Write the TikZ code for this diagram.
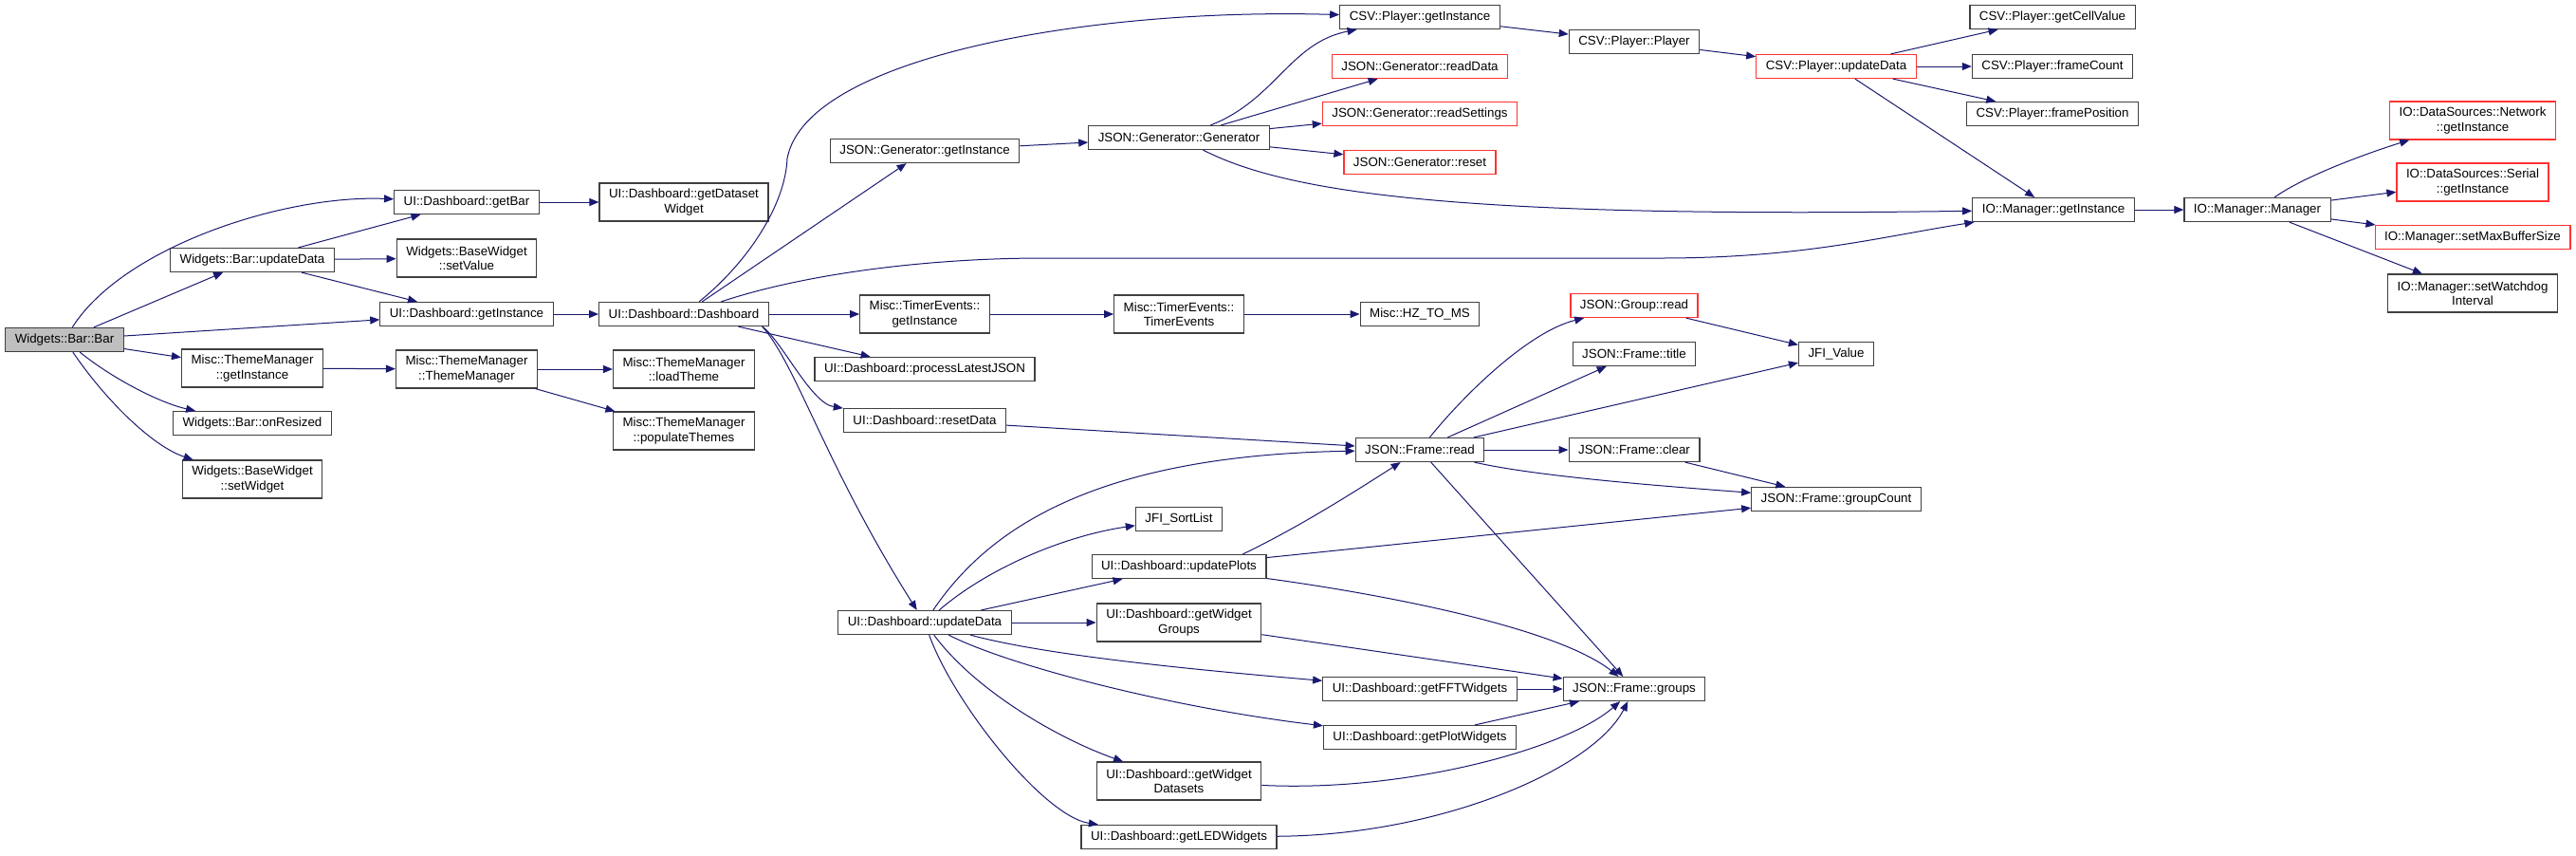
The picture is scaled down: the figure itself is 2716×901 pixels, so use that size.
\documentclass[tikz,border=0pt]{standalone}
\usepackage{fontspec}
\setmainfont{Liberation Sans}
\usepackage{xcolor}
\usepackage{tikz}
\usetikzlibrary{arrows.meta}

\definecolor{edgeblue}{RGB}{25,25,112}
\definecolor{boxline}{RGB}{64,64,64}
\definecolor{cutred}{RGB}{255,51,51}
\definecolor{rootgray}{RGB}{191,191,191}

\begin{document}
\begin{tikzpicture}[
  x=0.75pt, y=-0.75pt,
  block/.style={rectangle, draw=boxline, line width=0.9pt, minimum height=18.75pt, inner xsep=7.5pt, inner ysep=1pt, align=center, font=\fontsize{10}{11.5}\selectfont},
  two/.style={minimum height=30pt},
  cut/.style={draw=cutred},
  arrow/.style={-{Triangle[length=7.5pt,width=6pt]}, draw=edgeblue, line width=0.75pt}
]
\useasboundingbox (0,0) rectangle (2716,901);

\node[block, fill=rootgray] (bar) at (68,358) {Widgets::Bar::Bar};
\node[block] (wupd) at (266,274) {Widgets::Bar::updateData};
\node[block, two] (tminst) at (266,388) {Misc::ThemeManager\\::getInstance};
\node[block] (resize) at (266,446) {Widgets::Bar::onResized};
\node[block, two] (setwdg) at (266,505) {Widgets::BaseWidget\\::setWidget};
\node[block] (getbar) at (492,213) {UI::Dashboard::getBar};
\node[block, two] (setval) at (492,272) {Widgets::BaseWidget\\::setValue};
\node[block] (uiinst) at (492,331) {UI::Dashboard::getInstance};
\node[block, two] (tm) at (492,389) {Misc::ThemeManager\\::ThemeManager};
\node[block, two] (dsw) at (721,213) {UI::Dashboard::getDataset\\Widget};
\node[block] (dash) at (721,331) {UI::Dashboard::Dashboard};
\node[block, two] (loadth) at (721,389) {Misc::ThemeManager\\::loadTheme};
\node[block, two] (popth) at (721,454) {Misc::ThemeManager\\::populateThemes};
\node[block] (geninst) at (975,159) {JSON::Generator::getInstance};
\node[block, two] (teinst) at (975,331) {Misc::TimerEvents::\\getInstance};
\node[block] (plj) at (975,389) {UI::Dashboard::processLatestJSON};
\node[block] (resetd) at (975,443) {UI::Dashboard::resetData};
\node[block] (upd) at (975,656) {UI::Dashboard::updateData};
\node[block] (gen) at (1243,145) {JSON::Generator::Generator};
\node[block, two] (te) at (1243,331) {Misc::TimerEvents::\\TimerEvents};
\node[block] (sortl) at (1243,547) {JFI\_SortList};
\node[block] (uplots) at (1243,597) {UI::Dashboard::updatePlots};
\node[block, two] (wgroups) at (1243,656) {UI::Dashboard::getWidget\\Groups};
\node[block, two] (wds) at (1243,823) {UI::Dashboard::getWidget\\Datasets};
\node[block] (led) at (1243,882) {UI::Dashboard::getLEDWidgets};
\node[block] (csvinst) at (1497,18) {CSV::Player::getInstance};
\node[block, cut] (readdata) at (1497,70) {JSON::Generator::readData};
\node[block, cut] (readset) at (1497,120) {JSON::Generator::readSettings};
\node[block, cut] (genreset) at (1497,171) {JSON::Generator::reset};
\node[block] (hz) at (1497,331) {Misc::HZ\_TO\_MS};
\node[block] (fread) at (1497,474) {JSON::Frame::read};
\node[block] (fft) at (1497,726) {UI::Dashboard::getFFTWidgets};
\node[block] (plotw) at (1497,777) {UI::Dashboard::getPlotWidgets};
\node[block] (player) at (1723,44) {CSV::Player::Player};
\node[block, cut] (grpread) at (1723,322) {JSON::Group::read};
\node[block] (ftitle) at (1723,373) {JSON::Frame::title};
\node[block] (fclear) at (1723,474) {JSON::Frame::clear};
\node[block] (fgroups) at (1723,726) {JSON::Frame::groups};
\node[block, cut] (csvupd) at (1936,70) {CSV::Player::updateData};
\node[block] (jfival) at (1936,373) {JFI\_Value};
\node[block] (gcount) at (1936,526) {JSON::Frame::groupCount};
\node[block] (cellval) at (2164,18) {CSV::Player::getCellValue};
\node[block] (fcount) at (2164,70) {CSV::Player::frameCount};
\node[block] (fpos) at (2164,120) {CSV::Player::framePosition};
\node[block] (ioinst) at (2165,221) {IO::Manager::getInstance};
\node[block] (iomgr) at (2380,221) {IO::Manager::Manager};
\node[block, two, cut] (netinst) at (2607,127) {IO::DataSources::Network\\::getInstance};
\node[block, two, cut] (serinst) at (2607,192) {IO::DataSources::Serial\\::getInstance};
\node[block, cut] (maxbuf) at (2607,250) {IO::Manager::setMaxBufferSize};
\node[block, two] (watchdog) at (2607,309) {IO::Manager::setWatchdog\\Interval};

\draw[arrow] (bar) .. controls (130,260) and (300,205) .. (getbar);
\draw[arrow] (bar) -- (wupd);
\draw[arrow] (bar) -- (uiinst);
\draw[arrow] (bar) -- (tminst);
\draw[arrow] (bar) .. controls (120,400) and (170,425) .. (resize);
\draw[arrow] (bar) .. controls (110,420) and (160,470) .. (setwdg);
\draw[arrow] (wupd) -- (getbar);
\draw[arrow] (wupd) -- (setval);
\draw[arrow] (wupd) -- (uiinst);
\draw[arrow] (getbar) -- (dsw);
\draw[arrow] (uiinst) -- (dash);
\draw[arrow] (tminst) -- (tm);
\draw[arrow] (tm) -- (loadth);
\draw[arrow] (tm) -- (popth);
\draw[arrow] (dash) .. controls (790,275) and (828,215) .. (830,167) .. controls (850,60) and (1150,8) .. (csvinst);
\draw[arrow] (dash) -- (geninst);
\draw[arrow] (dash) .. controls (850,288) and (980,272) .. (1100,272) -- (1750,272) .. controls (1900,272) and (1980,250) .. (ioinst);
\draw[arrow] (dash) -- (teinst);
\draw[arrow] (dash) -- (plj);
\draw[arrow] (dash.-9) .. controls (825,360) and (855,425) .. (resetd);
\draw[arrow] (dash.-9) .. controls (840,385) and (870,490) .. (upd);
\draw[arrow] (geninst) -- (gen);
\draw[arrow] (gen) .. controls (1345,105) and (1360,45) .. (csvinst);
\draw[arrow] (gen) -- (readdata);
\draw[arrow] (gen) -- (readset);
\draw[arrow] (gen) -- (genreset);
\draw[arrow] (gen) .. controls (1360,205) and (1550,230) .. (ioinst);
\draw[arrow] (csvinst) -- (player);
\draw[arrow] (player) -- (csvupd);
\draw[arrow] (csvupd) -- (cellval);
\draw[arrow] (csvupd) -- (fcount);
\draw[arrow] (csvupd) -- (fpos);
\draw[arrow] (csvupd) -- (ioinst);
\draw[arrow] (ioinst) -- (iomgr);
\draw[arrow] (iomgr) .. controls (2430,185) and (2500,160) .. (netinst);
\draw[arrow] (iomgr) -- (serinst);
\draw[arrow] (iomgr) -- (maxbuf);
\draw[arrow] (iomgr) -- (watchdog);
\draw[arrow] (teinst) -- (te);
\draw[arrow] (te) -- (hz);
\draw[arrow] (resetd) -- (fread);
\draw[arrow] (upd) .. controls (1040,560) and (1150,480) .. (fread);
\draw[arrow] (upd) .. controls (1040,600) and (1120,565) .. (sortl);
\draw[arrow] (upd) -- (uplots);
\draw[arrow] (upd) -- (wgroups);
\draw[arrow] (upd) .. controls (1100,690) and (1250,705) .. (fft);
\draw[arrow] (upd) .. controls (1060,700) and (1230,745) .. (plotw);
\draw[arrow] (upd) .. controls (1030,730) and (1120,780) .. (wds);
\draw[arrow] (upd) .. controls (1005,740) and (1100,860) .. (led);
\draw[arrow] (uplots.11) .. controls (1360,560) and (1410,530) .. (fread);
\draw[arrow] (uplots) -- (gcount);
\draw[arrow] (uplots) .. controls (1450,625) and (1640,660) .. (fgroups);
\draw[arrow] (wgroups) -- (fgroups);
\draw[arrow] (fft) -- (fgroups);
\draw[arrow] (plotw) -- (fgroups);
\draw[arrow] (wds) .. controls (1480,835) and (1650,790) .. (fgroups);
\draw[arrow] (led) .. controls (1520,880) and (1680,810) .. (fgroups);
\draw[arrow] (fread) .. controls (1540,420) and (1610,350) .. (grpread);
\draw[arrow] (fread) -- (ftitle);
\draw[arrow] (fread) -- (jfival);
\draw[arrow] (fread) -- (fclear);
\draw[arrow] (fread) .. controls (1620,502) and (1750,512) .. (gcount);
\draw[arrow] (fread) -- (fgroups);
\draw[arrow] (grpread) -- (jfival);
\draw[arrow] (fclear) -- (gcount);
\end{tikzpicture}
\end{document}
